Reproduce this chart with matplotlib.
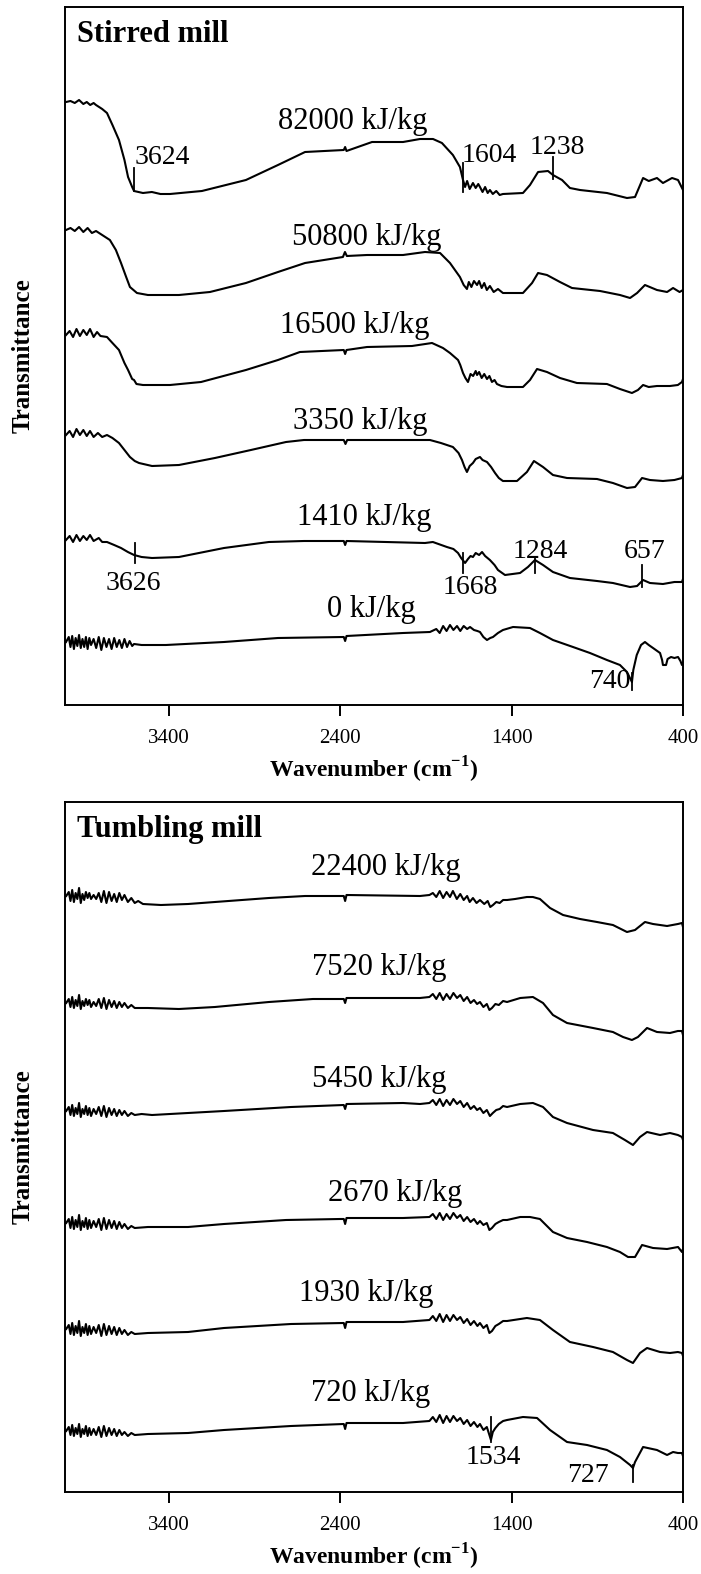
import matplotlib.pyplot as plt
import numpy as np

plt.rcParams['font.family'] = ['Liberation Serif', 'DejaVu Serif']
plt.rcParams['mathtext.fontset'] = 'custom'
plt.rcParams['mathtext.rm'] = 'Liberation Serif'
plt.rcParams['mathtext.bf'] = 'Liberation Serif:bold'

# ---- Stirred mill spectra: (wavenumber, transmittance a.u.) ----
s82000 = [(4001, 603), (3975, 604), (3950, 602), (3925, 605), (3900, 601), (3880, 603), (3860, 600), (3840, 602),
          (3826, 600), (3790, 596), (3762, 592), (3730, 580), (3692, 565), (3660, 545), (3639, 528), (3615, 518),
          (3604, 514), (3552, 512), (3500, 513), (3450, 511), (3394, 511), (3208, 514), (2951, 525), (2764, 540),
          (2606, 553), (2380, 555), (2372, 558), (2364, 554), (2215, 563), (2169, 563), (2034, 563), (1935, 566),
          (1859, 566), (1807, 562), (1743, 550), (1702, 538), (1684, 525), (1672, 518), (1660, 524), (1645, 516),
          (1626, 522), (1610, 517), (1595, 521), (1585, 518), (1570, 513), (1555, 518), (1540, 512), (1527, 515),
          (1510, 511), (1490, 514), (1470, 510), (1451, 511), (1334, 512), (1293, 520), (1246, 533), (1188, 534),
          (1159, 530), (1106, 525), (1060, 517), (1001, 515), (844, 512), (727, 507), (680, 508), (633, 527),
          (600, 524), (552, 527), (517, 522), (464, 527), (429, 525), (400, 515)]
s50800 = [(4001, 475), (3975, 477), (3950, 474), (3925, 478), (3900, 473), (3875, 477), (3850, 472), (3826, 474),
          (3790, 470), (3745, 465), (3710, 455), (3680, 442), (3650, 428), (3628, 418), (3587, 412), (3523, 410),
          (3342, 410), (3161, 413), (2951, 422), (2764, 433), (2606, 442), (2385, 448), (2373, 453), (2362, 449),
          (2244, 450), (2034, 450), (1906, 453), (1818, 452), (1760, 442), (1702, 428), (1680, 420), (1661, 416),
          (1650, 423), (1635, 418), (1620, 424), (1602, 420), (1590, 424), (1575, 417), (1560, 422), (1545, 415),
          (1527, 419), (1505, 413), (1480, 416), (1451, 412), (1334, 412), (1281, 422), (1246, 432), (1194, 430),
          (1118, 423), (1048, 417), (884, 414), (768, 410), (709, 407), (668, 412), (622, 420), (552, 415),
          (493, 413), (458, 417), (420, 413), (400, 415)]
s16500 = [(4001, 370), (3980, 374), (3960, 368), (3940, 376), (3920, 369), (3900, 375), (3880, 370), (3861, 376),
          (3840, 368), (3820, 373), (3800, 369), (3762, 368), (3730, 362), (3692, 355), (3660, 342), (3639, 335),
          (3615, 326), (3604, 325), (3590, 321), (3552, 320), (3394, 320), (3213, 323), (2951, 335), (2764, 345),
          (2636, 353), (2380, 355), (2372, 351), (2364, 355), (2244, 358), (1982, 359), (1865, 362), (1801, 357),
          (1760, 352), (1713, 345), (1700, 340), (1684, 332), (1670, 327), (1655, 323), (1640, 331), (1625, 329),
          (1610, 334), (1602, 330), (1590, 333), (1575, 327), (1560, 331), (1544, 326), (1530, 329), (1515, 323),
          (1500, 325), (1486, 321), (1460, 319), (1427, 318), (1334, 318), (1293, 325), (1252, 336), (1194, 333),
          (1118, 327), (1019, 322), (844, 321), (768, 316), (698, 312), (663, 315), (633, 320), (600, 318),
          (552, 319), (476, 319), (430, 320), (406, 323), (400, 326)]
s3350 = [(4001, 270), (3980, 274), (3960, 268), (3940, 276), (3920, 270), (3900, 275), (3880, 269), (3861, 274),
         (3840, 268), (3815, 272), (3790, 268), (3762, 270), (3730, 267), (3692, 262), (3660, 255), (3628, 248),
         (3600, 244), (3575, 242), (3499, 239), (3342, 240), (3132, 247), (2922, 255), (2717, 263), (2612, 265),
         (2380, 265), (2370, 261), (2360, 265), (1877, 265), (1813, 262), (1743, 258), (1710, 252), (1690, 245),
         (1675, 238), (1661, 233), (1645, 239), (1626, 242), (1610, 246), (1585, 248), (1570, 245), (1544, 243),
         (1520, 238), (1497, 232), (1475, 227), (1451, 224), (1369, 224), (1311, 233), (1270, 244), (1217, 238),
         (1159, 230), (1077, 227), (902, 226), (809, 222), (727, 217), (680, 218), (639, 227), (593, 225),
         (517, 224), (450, 225), (406, 227), (400, 230)]
s1410 = [(4001, 165), (3980, 169), (3960, 163), (3940, 170), (3920, 164), (3900, 169), (3880, 165), (3861, 170),
         (3840, 164), (3810, 167), (3790, 163), (3762, 163), (3720, 160), (3680, 157), (3640, 153), (3604, 150),
         (3560, 148), (3499, 147), (3342, 148), (3079, 157), (2817, 163), (2612, 164), (2380, 164), (2372, 160),
         (2364, 164), (1906, 162), (1860, 163), (1778, 158), (1740, 156), (1713, 152), (1695, 147), (1672, 142),
         (1655, 146), (1640, 149), (1626, 148), (1610, 152), (1590, 150), (1573, 153), (1555, 149), (1527, 145),
         (1500, 140), (1480, 135), (1439, 130), (1351, 132), (1305, 138), (1264, 145), (1217, 140), (1159, 133),
         (1060, 127), (902, 124), (809, 122), (709, 118), (668, 119), (633, 125), (593, 122), (517, 121),
         (450, 123), (406, 123), (400, 126)]
s0 = [(4001, 63), (3985, 68), (3975, 58), (3965, 69), (3955, 56), (3945, 67), (3935, 59), (3925, 70), (3915, 57),
      (3905, 66), (3895, 58), (3885, 68), (3875, 56), (3865, 67), (3855, 60), (3840, 66), (3825, 57), (3810, 68),
      (3795, 55), (3780, 67), (3765, 58), (3750, 66), (3735, 56), (3720, 67), (3705, 58), (3690, 65), (3675, 57),
      (3660, 66), (3645, 58), (3630, 64), (3615, 59), (3604, 61), (3560, 60), (3418, 60), (3079, 63), (2764, 67),
      (2380, 68), (2372, 64), (2364, 69), (2034, 72), (1877, 73), (1840, 76), (1820, 72), (1800, 79), (1780, 74),
      (1760, 80), (1740, 75), (1719, 79), (1700, 74), (1680, 79), (1660, 76), (1643, 78), (1620, 75), (1600, 74),
      (1585, 73), (1565, 68), (1544, 65), (1525, 67), (1509, 68), (1480, 72), (1451, 75), (1392, 78), (1293, 77),
      (1235, 72), (1159, 65), (1042, 58), (943, 52), (844, 45), (768, 40), (727, 33), (698, 23), (690, 35),
      (670, 50), (645, 60), (622, 63), (600, 60), (575, 57), (534, 52), (522, 45), (517, 40), (499, 40), (490, 46),
      (470, 48), (450, 47), (429, 48), (415, 44), (406, 40), (400, 42)]

# ---- Tumbling mill spectra ----
s22400 = [(4000, 596), (3985, 600), (3975, 591), (3965, 602), (3955, 590), (3945, 599), (3935, 593), (3925, 604),
          (3915, 589), (3905, 598), (3895, 592), (3885, 600), (3875, 594), (3865, 599), (3855, 593), (3840, 597),
          (3825, 593), (3810, 599), (3795, 590), (3780, 601), (3765, 589), (3750, 600), (3735, 591), (3720, 598),
          (3705, 590), (3690, 599), (3675, 592), (3660, 597), (3640, 590), (3620, 594), (3600, 589), (3580, 591),
          (3552, 588), (3447, 587), (3289, 588), (3132, 590), (2817, 594), (2606, 596), (2380, 596), (2372, 591),
          (2364, 597), (1935, 596), (1880, 597), (1860, 599), (1840, 595), (1820, 601), (1800, 594), (1780, 600),
          (1760, 595), (1743, 601), (1720, 593), (1700, 598), (1680, 592), (1660, 596), (1645, 590), (1626, 594),
          (1605, 589), (1585, 592), (1560, 588), (1540, 591), (1525, 585), (1509, 587), (1490, 590), (1470, 589),
          (1450, 592), (1427, 592), (1380, 593), (1311, 595), (1276, 595), (1235, 593), (1176, 584), (1100, 577),
          (1001, 573), (902, 570), (809, 567), (727, 560), (680, 562), (622, 570), (575, 568), (493, 566),
          (430, 568), (406, 569), (400, 565)]
s7520 = [(4000, 489), (3985, 493), (3975, 485), (3965, 495), (3955, 484), (3945, 492), (3935, 486), (3925, 497),
         (3915, 483), (3905, 491), (3895, 486), (3885, 493), (3875, 487), (3865, 492), (3855, 485), (3840, 490),
         (3825, 486), (3810, 493), (3795, 484), (3780, 494), (3765, 483), (3750, 492), (3735, 485), (3720, 491),
         (3705, 484), (3690, 490), (3675, 485), (3660, 489), (3640, 484), (3620, 487), (3600, 484), (3552, 484),
         (3523, 484), (3342, 483), (3132, 485), (2817, 490), (2560, 493), (2380, 493), (2372, 489), (2364, 494),
         (2034, 494), (1935, 494), (1880, 495), (1860, 498), (1840, 493), (1820, 499), (1800, 492), (1780, 498),
         (1760, 493), (1740, 499), (1719, 494), (1700, 497), (1680, 491), (1660, 495), (1640, 489), (1620, 492),
         (1602, 488), (1585, 490), (1565, 485), (1545, 488), (1530, 482), (1515, 484), (1495, 488), (1475, 487),
         (1450, 491), (1427, 490), (1350, 494), (1276, 495), (1217, 489), (1159, 477), (1077, 469), (925, 464),
         (809, 460), (750, 455), (698, 452), (663, 455), (610, 464), (552, 460), (476, 459), (430, 461),
         (406, 461), (400, 457)]
s5450 = [(4000, 381), (3985, 385), (3975, 377), (3965, 387), (3955, 376), (3945, 384), (3935, 378), (3925, 389),
         (3915, 375), (3905, 383), (3895, 378), (3885, 386), (3875, 377), (3865, 384), (3855, 376), (3840, 383),
         (3825, 378), (3810, 385), (3795, 376), (3780, 386), (3765, 375), (3750, 384), (3735, 377), (3720, 383),
         (3705, 376), (3690, 382), (3675, 377), (3660, 381), (3640, 376), (3620, 379), (3600, 377), (3560, 378),
         (3499, 377), (3289, 379), (3079, 381), (2688, 385), (2380, 387), (2372, 383), (2364, 388), (2034, 389),
         (1935, 388), (1880, 389), (1860, 392), (1840, 387), (1820, 393), (1800, 386), (1780, 392), (1760, 387),
         (1740, 393), (1719, 388), (1700, 391), (1680, 385), (1660, 389), (1640, 383), (1620, 386), (1602, 382),
         (1585, 384), (1565, 379), (1545, 382), (1527, 376), (1510, 379), (1490, 382), (1470, 383), (1450, 386),
         (1427, 385), (1350, 388), (1276, 389), (1217, 385), (1159, 375), (1077, 369), (925, 362), (809, 359),
         (739, 352), (692, 347), (651, 355), (610, 360), (534, 357), (476, 359), (430, 357), (406, 355), (400, 352)]
s2670 = [(4000, 269), (3985, 273), (3975, 264), (3965, 275), (3955, 263), (3945, 272), (3935, 265), (3925, 277),
         (3915, 262), (3905, 271), (3895, 265), (3885, 274), (3875, 263), (3865, 272), (3855, 264), (3840, 271),
         (3825, 265), (3810, 273), (3795, 262), (3780, 274), (3765, 263), (3750, 272), (3735, 264), (3720, 271),
         (3705, 263), (3690, 270), (3675, 264), (3660, 268), (3640, 263), (3620, 266), (3600, 264), (3523, 265),
         (3289, 265), (3079, 268), (2717, 272), (2402, 273), (2380, 273), (2372, 268), (2364, 274), (2034, 274),
         (1880, 275), (1860, 278), (1840, 273), (1820, 279), (1800, 272), (1780, 278), (1760, 273), (1740, 279),
         (1719, 274), (1700, 277), (1680, 271), (1660, 275), (1640, 270), (1620, 273), (1600, 268), (1585, 271),
         (1565, 267), (1545, 269), (1530, 262), (1515, 264), (1495, 268), (1475, 270), (1450, 272), (1427, 272),
         (1350, 275), (1293, 275), (1235, 273), (1159, 260), (1077, 254), (960, 250), (844, 245), (768, 240),
         (721, 235), (680, 235), (639, 247), (575, 244), (493, 243), (429, 245), (406, 240), (400, 243)]
s1930 = [(4000, 163), (3985, 167), (3975, 158), (3965, 169), (3955, 157), (3945, 166), (3935, 159), (3925, 171),
         (3915, 156), (3905, 165), (3895, 159), (3885, 168), (3875, 157), (3865, 166), (3855, 158), (3840, 165),
         (3825, 159), (3810, 167), (3795, 156), (3780, 168), (3765, 157), (3750, 166), (3735, 158), (3720, 165),
         (3705, 157), (3690, 164), (3675, 158), (3660, 162), (3640, 157), (3620, 160), (3600, 158), (3523, 159),
         (3289, 160), (3079, 164), (2688, 168), (2380, 169), (2372, 164), (2364, 170), (2034, 170), (1880, 172),
         (1860, 176), (1840, 171), (1820, 178), (1800, 170), (1780, 177), (1760, 171), (1740, 177), (1719, 172),
         (1700, 175), (1680, 169), (1660, 173), (1640, 167), (1620, 171), (1600, 166), (1585, 169), (1565, 164),
         (1545, 167), (1530, 159), (1515, 161), (1495, 166), (1475, 168), (1450, 171), (1427, 171), (1350, 173),
         (1311, 174), (1235, 172), (1159, 162), (1060, 150), (925, 145), (809, 140), (727, 132), (692, 129),
         (651, 139), (610, 144), (534, 140), (476, 139), (430, 140), (406, 139), (400, 136)]
s720 = [(4000, 61), (3985, 65), (3975, 57), (3965, 67), (3955, 56), (3945, 64), (3935, 58), (3925, 68),
        (3915, 55), (3905, 63), (3895, 58), (3885, 66), (3875, 56), (3865, 64), (3855, 57), (3840, 63),
        (3825, 57), (3810, 65), (3795, 55), (3780, 66), (3765, 56), (3750, 64), (3735, 57), (3720, 63),
        (3705, 56), (3690, 62), (3675, 57), (3660, 60), (3640, 56), (3620, 59), (3600, 57), (3523, 58),
        (3289, 59), (3079, 62), (2688, 66), (2380, 68), (2372, 63), (2364, 69), (2034, 69), (1880, 71),
        (1860, 75), (1840, 70), (1820, 77), (1800, 69), (1780, 76), (1760, 70), (1740, 76), (1719, 71),
        (1700, 74), (1680, 68), (1660, 72), (1640, 66), (1620, 70), (1600, 65), (1585, 68), (1565, 62),
        (1545, 65), (1530, 57), (1521, 52), (1510, 60), (1495, 64), (1475, 68), (1450, 71), (1427, 72),
        (1334, 75), (1252, 74), (1176, 62), (1077, 50), (960, 47), (844, 42), (768, 35), (709, 27), (692, 24),
        (680, 30), (633, 45), (552, 42), (493, 37), (458, 40), (430, 39), (406, 39), (400, 36)]

stirred_curves = [s82000, s50800, s16500, s3350, s1410, s0]
stirred_labels = ["82000 kJ/kg", "50800 kJ/kg", "16500 kJ/kg", "3350 kJ/kg", "1410 kJ/kg", "0 kJ/kg"]
tumbling_curves = [s22400, s7520, s5450, s2670, s1930, s720]
tumbling_labels = ["22400 kJ/kg", "7520 kJ/kg", "5450 kJ/kg", "2670 kJ/kg", "1930 kJ/kg", "720 kJ/kg"]

# peak marks: label, wavenumber of the tick, tick bottom/top (a.u.)
stirred_peaks = [("3624", 3604, 514, 537), ("1604", 1684, 513, 542), ("1238", 1159, 526, 548),
                 ("3626", 3599, 142, 162), ("1668", 1684, 132, 152), ("1284", 1264, 132, 147),
                 ("657", 639, 118, 140), ("740", 698, 15, 32)]
tumbling_peaks = [("1534", 1521, 50, 75), ("727", 692, 10, 27)]

fig = plt.figure(figsize=(7.01, 15.74), dpi=100)
ax1 = fig.add_axes([65/701, 1-705/1574, 618/701, 698/1574])
ax2 = fig.add_axes([65/701, 1-1492/1574, 618/701, 690/1574])

def setup(ax, ylim, title):
    ax.set_xlim(4007, 400)
    ax.set_ylim(0, ylim)
    ax.set_xticks([3400, 2400, 1400, 400])
    ax.set_yticks([])
    ax.tick_params(axis='x', direction='out', length=8, width=1.4, labelsize=15, pad=9)
    for sp in ax.spines.values():
        sp.set_linewidth(1.4)
    ax.set_xlabel('Wavenumber (cm$^{\\mathbf{-1}}$)', fontsize=17, fontweight='bold', labelpad=5)
    ax.set_ylabel('Transmittance', fontsize=18, fontweight='bold')
    ax.yaxis.set_label_coords(-30/618, 0.5)
    ax.text(0.02, 0.96, title, transform=ax.transAxes, fontsize=22, fontweight='bold',
            ha='left', va='center')

setup(ax1, 698, 'Stirred mill')
setup(ax2, 690, 'Tumbling mill')

for s in stirred_curves:
    d = np.array(s)
    ax1.plot(d[:, 0], d[:, 1], color='black', lw=1.5)
for s in tumbling_curves:
    d = np.array(s)
    ax2.plot(d[:, 0], d[:, 1], color='black', lw=1.5)

# curve labels
stirred_lab_xy = [(2326, 583), (2244, 467), (2315, 380), (2285, 283), (2262, 187), (2221, 95)]
tumbling_lab_xy = [(2134, 624), (2174, 524), (2174, 412), (2081, 299), (2250, 199), (2221, 99)]
for lab, (x, y) in zip(stirred_labels, stirred_lab_xy):
    ax1.text(x, y, lab, fontsize=22, ha='center', va='center')
for lab, (x, y) in zip(tumbling_labels, tumbling_lab_xy):
    ax2.text(x, y, lab, fontsize=22, ha='center', va='center')

# peak marks
stirred_peak_txt = [(3600, 547, 'left'), (1690, 550, 'left'), (1136, 558, 'center'),
                    (3611, 122, 'center'), (1643, 117, 'center'), (1235, 153, 'center'),
                    (622, 153, 'center'), (826, 23, 'center')]
tumbling_peak_txt = [(1509, 34, 'center'), (955, 17, 'center')]
for (lab, wn, y0, y1), (tx, ty, ha) in zip(stirred_peaks, stirred_peak_txt):
    ax1.plot([wn, wn], [y0, y1], color='black', lw=1.3)
    ax1.text(tx, ty, lab, fontsize=20, ha=ha, va='center')
for (lab, wn, y0, y1), (tx, ty, ha) in zip(tumbling_peaks, tumbling_peak_txt):
    ax2.plot([wn, wn], [y0, y1], color='black', lw=1.3)
    ax2.text(tx, ty, lab, fontsize=20, ha=ha, va='center')

fig.savefig('out.png', dpi=100)
